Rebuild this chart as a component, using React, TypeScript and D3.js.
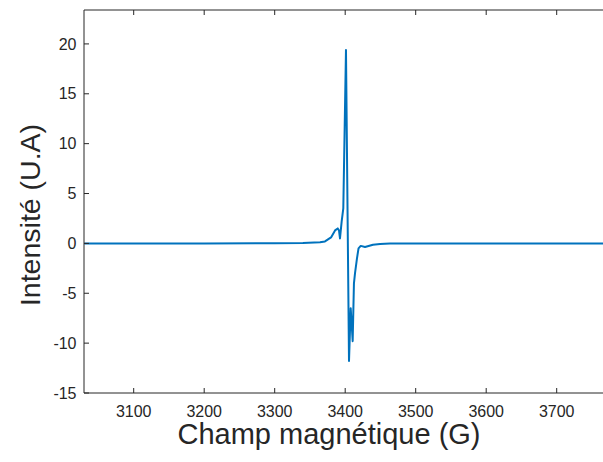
import React from "react";
import * as d3 from "d3";

const fieldG: number[] = [3030, 3200, 3300, 3340, 3364.3, 3371.3, 3379.9, 3385.6, 3389.4, 3391.2, 3392.6, 3395.0, 3397.3, 3401.1, 3405.4, 3407.8, 3410.6, 3412.4, 3413.9, 3416.7, 3418.9, 3422.0, 3428.1, 3439.4, 3449.4, 3463.5, 3600, 3800];
const intensity: number[] = [0, 0, 0.01, 0.03, 0.12, 0.2, 0.6, 1.3, 1.5, 1.3, 0.5, 2.2, 3.5, 19.4, -11.8, -6.5, -9.8, -4, -3, -1.5, -0.5, -0.25, -0.37, -0.13, -0.05, 0, 0, 0];
const xTicks: number[] = [3100, 3200, 3300, 3400, 3500, 3600, 3700];
const yTicks: number[] = [-15, -10, -5, 0, 5, 10, 15, 20];

const W = 603;
const H = 462;
const left = 84;
const top = 10;
const bottom = 393;
const xMin = 3029.5;
const xMax = 3800;
const pxPer100 = 70.5;
const right = left + ((xMax - xMin) / 100) * pxPer100;

export default function App() {
  const x = d3.scaleLinear().domain([xMin, xMax]).range([left, right]);
  const y = d3.scaleLinear().domain([-15, 23.4]).range([bottom, top]);
  const data = fieldG.map((g, i) => [g, intensity[i]] as [number, number]);
  const line = d3
    .line<[number, number]>()
    .x((d) => x(d[0]))
    .y((d) => y(d[1]));
  const axisColor = "#262626";
  const font = "'Liberation Sans', Arial, Helvetica, sans-serif";
  return (
    <svg
      width={W}
      height={H}
      style={{ position: "absolute", left: 0, top: 0, background: "#fff", overflow: "hidden" }}
      fontFamily={font}
    >
      <defs>
        <clipPath id="plotclip">
          <rect x={left} y={top} width={right - left} height={bottom - top} />
        </clipPath>
      </defs>
      <path d={line(data) || ""} fill="none" stroke="#0072BD" strokeWidth={2} clipPath="url(#plotclip)" strokeLinejoin="round" />
      <line x1={left} x2={left} y1={top} y2={bottom} stroke={axisColor} strokeWidth={1} />
      <line x1={left} x2={right} y1={bottom} y2={bottom} stroke={axisColor} strokeWidth={1} />
      <line x1={left} x2={right} y1={top} y2={top} stroke={axisColor} strokeWidth={1} />
      {xTicks.map((t) => (
        <g key={"x" + t}>
          <line x1={x(t)} x2={x(t)} y1={bottom} y2={bottom - 5} stroke={axisColor} />
          <line x1={x(t)} x2={x(t)} y1={top} y2={top + 5} stroke={axisColor} />
          <text x={x(t)} y={416.5} textAnchor="middle" fontSize={16} fill={axisColor}>
            {t}
          </text>
        </g>
      ))}
      {yTicks.map((t) => (
        <g key={"y" + t}>
          <line x1={left} x2={left + 5} y1={y(t)} y2={y(t)} stroke={axisColor} />
          <text x={76.5} y={y(t) + 5.7} textAnchor="end" fontSize={16} fill={axisColor}>
            {t}
          </text>
        </g>
      ))}
      <text x={329} y={444} textAnchor="middle" fontSize={29} fill={axisColor}>
        Champ magnétique (G)
      </text>
      <text
        transform={`translate(39.5, 215) rotate(-90)`}
        textAnchor="middle"
        fontSize={28.5}
        fill={axisColor}
      >
        Intensité (U.A)
      </text>
    </svg>
  );
}
